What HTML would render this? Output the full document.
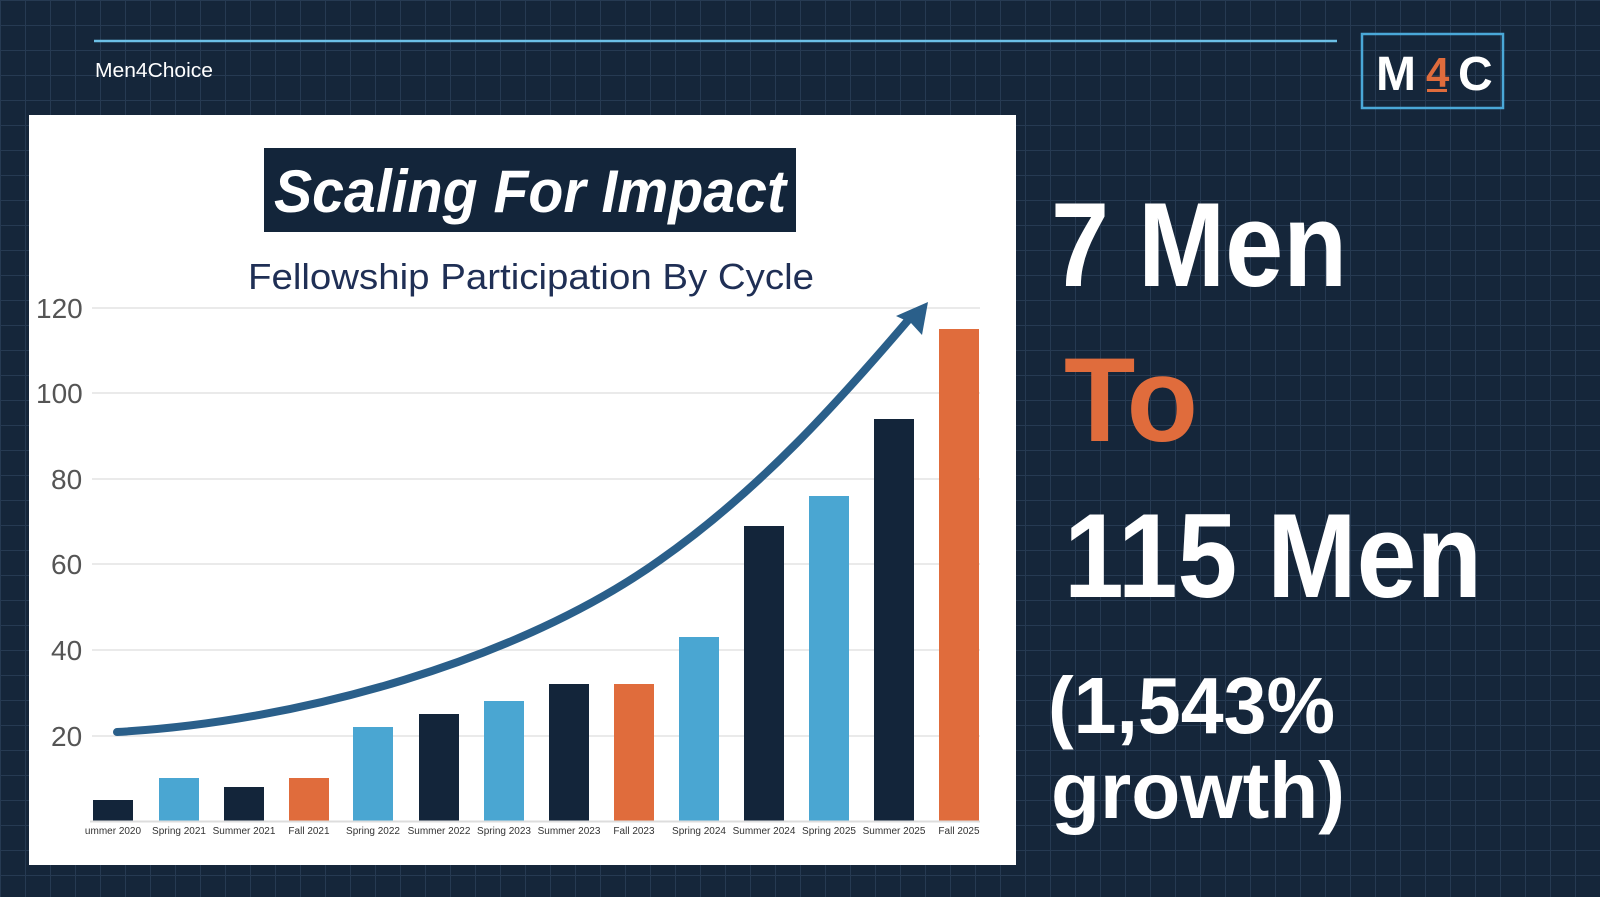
<!DOCTYPE html>
<html><head><meta charset="utf-8"><style>
html,body{margin:0;padding:0;background:#15263a;}
svg{display:block;}
</style></head><body>
<svg width="1600" height="897" viewBox="0 0 1600 897" xmlns="http://www.w3.org/2000/svg" font-family="Liberation Sans, sans-serif">
<defs>
<pattern id="g" width="25" height="25" patternUnits="userSpaceOnUse">
<rect width="25" height="25" fill="#15263a"/>
<path d="M0 0.5H25M0.5 0V25" stroke="#263a52" stroke-width="1"/>
</pattern>
</defs>
<rect width="1600" height="897" fill="url(#g)"/>
<line x1="94" y1="41" x2="1337" y2="41" stroke="#6cc0e6" stroke-width="2.5"/>
<text x="95" y="77" font-size="20" fill="#fff" textLength="118" lengthAdjust="spacingAndGlyphs">Men4Choice</text>
<rect x="1362" y="34" width="141" height="74" fill="none" stroke="#4aa8d8" stroke-width="2.5"/>
<text x="1376" y="90" font-size="48" font-weight="bold" fill="#fff">M</text>
<text x="1426" y="87" font-size="42" font-weight="bold" fill="#e06c3c">4</text>
<rect x="1427" y="89" width="20" height="3" fill="#e06c3c"/>
<text x="1458" y="90" font-size="48" font-weight="bold" fill="#fff">C</text>

<rect x="29" y="115" width="987" height="750" fill="#fff"/>
<rect x="264" y="148" width="532" height="84" fill="#13253a"/>
<text x="274" y="212" font-size="60" font-weight="bold" font-style="italic" fill="#fff" textLength="512" lengthAdjust="spacingAndGlyphs">Scaling For Impact</text>
<text x="248" y="289" font-size="36" fill="#1f2f55" textLength="566" lengthAdjust="spacingAndGlyphs">Fellowship Participation By Cycle</text>

<g stroke="#dddddd" stroke-width="1.2">
<line x1="92" y1="308" x2="980" y2="308"/>
<line x1="92" y1="393" x2="980" y2="393"/>
<line x1="92" y1="479" x2="980" y2="479"/>
<line x1="92" y1="564" x2="980" y2="564"/>
<line x1="92" y1="650" x2="980" y2="650"/>
<line x1="92" y1="736" x2="980" y2="736"/>
</g>
<g font-size="28" fill="#555">
<text x="36" y="318">120</text>
<text x="36" y="403">100</text>
<text x="51" y="489">80</text>
<text x="51" y="574">60</text>
<text x="51" y="660">40</text>
<text x="51" y="746">20</text>
</g>
<g>
<rect x="93" y="800" width="40" height="21" fill="#13253a"/>
<rect x="159" y="778" width="40" height="43" fill="#4aa6d2"/>
<rect x="224" y="787" width="40" height="34" fill="#13253a"/>
<rect x="289" y="778" width="40" height="43" fill="#e06c3c"/>
<rect x="353" y="727" width="40" height="94" fill="#4aa6d2"/>
<rect x="419" y="714" width="40" height="107" fill="#13253a"/>
<rect x="484" y="701" width="40" height="120" fill="#4aa6d2"/>
<rect x="549" y="684" width="40" height="137" fill="#13253a"/>
<rect x="614" y="684" width="40" height="137" fill="#e06c3c"/>
<rect x="679" y="637" width="40" height="184" fill="#4aa6d2"/>
<rect x="744" y="526" width="40" height="295" fill="#13253a"/>
<rect x="809" y="496" width="40" height="325" fill="#4aa6d2"/>
<rect x="874" y="419" width="40" height="402" fill="#13253a"/>
<rect x="939" y="329" width="40" height="492" fill="#e06c3c"/>
</g>
<line x1="90" y1="821.5" x2="980" y2="821.5" stroke="#ddd" stroke-width="2"/>
<g font-size="10" fill="#333" text-anchor="middle">
<text x="113" y="834">ummer 2020</text>
<text x="179" y="834">Spring 2021</text>
<text x="244" y="834">Summer 2021</text>
<text x="309" y="834">Fall 2021</text>
<text x="373" y="834">Spring 2022</text>
<text x="439" y="834">Summer 2022</text>
<text x="504" y="834">Spring 2023</text>
<text x="569" y="834">Summer 2023</text>
<text x="634" y="834">Fall 2023</text>
<text x="699" y="834">Spring 2024</text>
<text x="764" y="834">Summer 2024</text>
<text x="829" y="834">Spring 2025</text>
<text x="894" y="834">Summer 2025</text>
<text x="959" y="834">Fall 2025</text>
</g>
<path d="M117 732 C 300 722, 520 660, 660 560 C 760 490, 840 400, 910 318" fill="none" stroke="#2a5f8a" stroke-width="8" stroke-linecap="round"/>
<polygon points="928,302 922,335 911,323 896,316" fill="#2a5f8a"/>

<g font-weight="bold" fill="#fff">
<text x="1051" y="286" font-size="120" textLength="296" lengthAdjust="spacingAndGlyphs">7 Men</text>
<text x="1064" y="441" font-size="120" fill="#e06c3c" textLength="134" lengthAdjust="spacingAndGlyphs">To</text>
<text x="1064" y="597" font-size="120" textLength="418" lengthAdjust="spacingAndGlyphs">115 Men</text>
<text x="1048" y="733" font-size="80" textLength="287" lengthAdjust="spacingAndGlyphs">(1,543%</text>
<text x="1051" y="818" font-size="80" textLength="294" lengthAdjust="spacingAndGlyphs">growth)</text>
</g>
</svg>
</body></html>
